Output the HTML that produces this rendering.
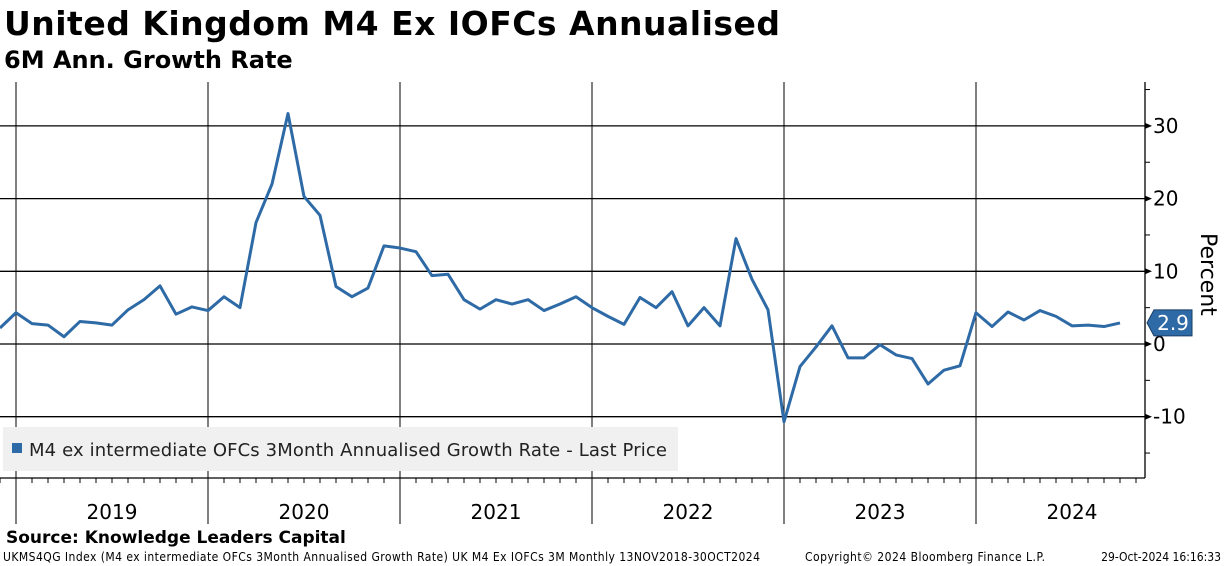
<!DOCTYPE html>
<html><head><meta charset="utf-8"><style>
body{margin:0;background:#fff;width:1224px;height:566px;overflow:hidden;font-family:"Liberation Sans",sans-serif}
svg{position:absolute;left:0;top:0}
</style></head><body>
<svg width="1224" height="566">
<text x="4" y="35" font-size="33" font-weight="bold" font-family="DejaVu Sans, sans-serif" textLength="776">United Kingdom M4 Ex IOFCs Annualised</text>
<text x="4" y="68" font-size="24" font-weight="bold" font-family="DejaVu Sans, sans-serif">6M Ann. Growth Rate</text>
<g id="grid"></g>
<rect x="3" y="427" width="675" height="44" fill="#f0f0f0"/>
<rect x="12" y="443" width="10" height="10" fill="#2e6aa6"/>
<text x="29" y="456" font-size="18" fill="#222" font-family="DejaVu Sans, sans-serif" textLength="638">M4 ex intermediate OFCs 3Month Annualised Growth Rate - Last Price</text>
<g id="marks"></g>
<text transform="translate(1201,233) rotate(90)" font-size="22" font-family="DejaVu Sans, sans-serif">Percent</text>
<text x="6" y="543" font-size="17" font-weight="bold" font-family="DejaVu Sans, sans-serif">Source: Knowledge Leaders Capital</text>
<text x="3" y="561" font-size="12" font-family="DejaVu Sans Condensed, DejaVu Sans, sans-serif" textLength="757">UKMS4QG Index (M4 ex intermediate OFCs 3Month Annualised Growth Rate) UK M4 Ex IOFCs 3M  Monthly 13NOV2018-30OCT2024</text>
<text x="805" y="561" font-size="12" font-family="DejaVu Sans Condensed, DejaVu Sans, sans-serif" textLength="240">Copyright© 2024 Bloomberg Finance L.P.</text>
<text x="1221" y="561" text-anchor="end" font-size="12" font-family="DejaVu Sans Condensed, DejaVu Sans, sans-serif">29-Oct-2024 16:16:33</text>
</svg>
<script>
const years=["2019","2020","2021","2022","2023","2024"];
const yTicks=[30,20,10,0,-10];
const values=[2.2,4.3,2.8,2.6,1.0,3.1,2.9,2.6,4.7,6.1,8.0,4.1,5.1,4.6,6.5,5.0,16.7,22.0,31.7,20.3,17.7,7.9,6.5,7.7,13.5,13.2,12.7,9.4,9.6,6.1,4.8,6.1,5.5,6.1,4.6,5.5,6.5,5.0,3.8,2.7,6.4,5.0,7.2,2.5,5.0,2.5,14.5,8.9,4.7,-10.7,-3.1,-0.4,2.5,-1.9,-1.9,-0.1,-1.5,-2.0,-5.5,-3.6,-3.0,4.3,2.4,4.4,3.3,4.6,3.8,2.5,2.6,2.4,2.9];
const lastLabel="2.9";
(function(){
const NS="http://www.w3.org/2000/svg";
const X0=0,DX=16,plotR=1145,plotTop=82,axisY=478,plotBottom=524;
const xs=i=>X0+i*DX;
const ys=v=>344-v*7.27;
function mk(t,a,p){const e=document.createElementNS(NS,t);for(const k in a)e.setAttribute(k,a[k]);p.appendChild(e);return e;}
const g=document.getElementById('grid'),m=document.getElementById('marks');
yTicks.forEach(t=>{
 const l=mk('line',{x1:0,x2:plotR,y1:ys(t),y2:ys(t),stroke:'#000','stroke-width':1.3},g);
 
 
 const tk=mk('path',{d:`M${plotR} ${ys(t)-3}L${plotR+7} ${ys(t)}L${plotR} ${ys(t)+3}Z`,fill:'#000'},g);
 
 
 const tx=mk('text',{x:plotR+8,y:ys(t)+7,'font-size':20,'font-family':'DejaVu Sans, sans-serif'},g);
 tx.textContent=(t<0?'-':'')+Math.abs(t);
 
 
});
for(let v=-15;v<=35;v+=5){if(v%10===0)continue;const y=ys(v);if(y<plotTop||y>axisY)continue;
 const t=mk('line',{x1:plotR,x2:plotR+5,y1:y,y2:y,stroke:'#000'},g);
 
 }
const ax=mk('line',{x1:plotR,x2:plotR,y1:plotTop,y2:axisY,stroke:'#000','stroke-width':1.3},g);


const xa=mk('line',{x1:0,x2:plotR,y1:axisY,y2:axisY,stroke:'#000','stroke-width':1.3},g);


for(let i=0;i<values.length+1;i++){const x=xs(i);
 const t=mk('line',{x1:x,x2:x,y1:axisY,y2:axisY+5,stroke:'#000'},g);
 
 }
years.forEach((yr,k)=>{const x=xs(1+12*k);
 const l=mk('line',{x1:x,x2:x,y1:plotTop,y2:plotBottom,stroke:'#000','stroke-width':1},g);
 
 
 const t=mk('text',{x:x+96,y:519,'text-anchor':'middle','font-size':20,'font-family':'DejaVu Sans, sans-serif'},g);
 t.textContent=yr;
 
 });
const line=mk('polyline',{points:values.map((v,i)=>xs(i)+','+ys(v)).join(' '),fill:'none',stroke:'#2e6aa6','stroke-width':3,'stroke-linejoin':'round'},m);


const lv=values[values.length-1],ly=ys(lv);
const tag=mk('path',{d:`M${plotR+2} ${ly}L${plotR+9} ${ly-13}H${plotR+47}V${ly+13}H${plotR+9}Z`,fill:'#2e6aa6',stroke:'#1a3f66'},m);


const tt=mk('text',{x:plotR+28,y:ly+7,'text-anchor':'middle','font-size':20,fill:'#fff','font-family':'DejaVu Sans, sans-serif'},m);
tt.textContent=lastLabel;


})();
</script>
</body></html>
